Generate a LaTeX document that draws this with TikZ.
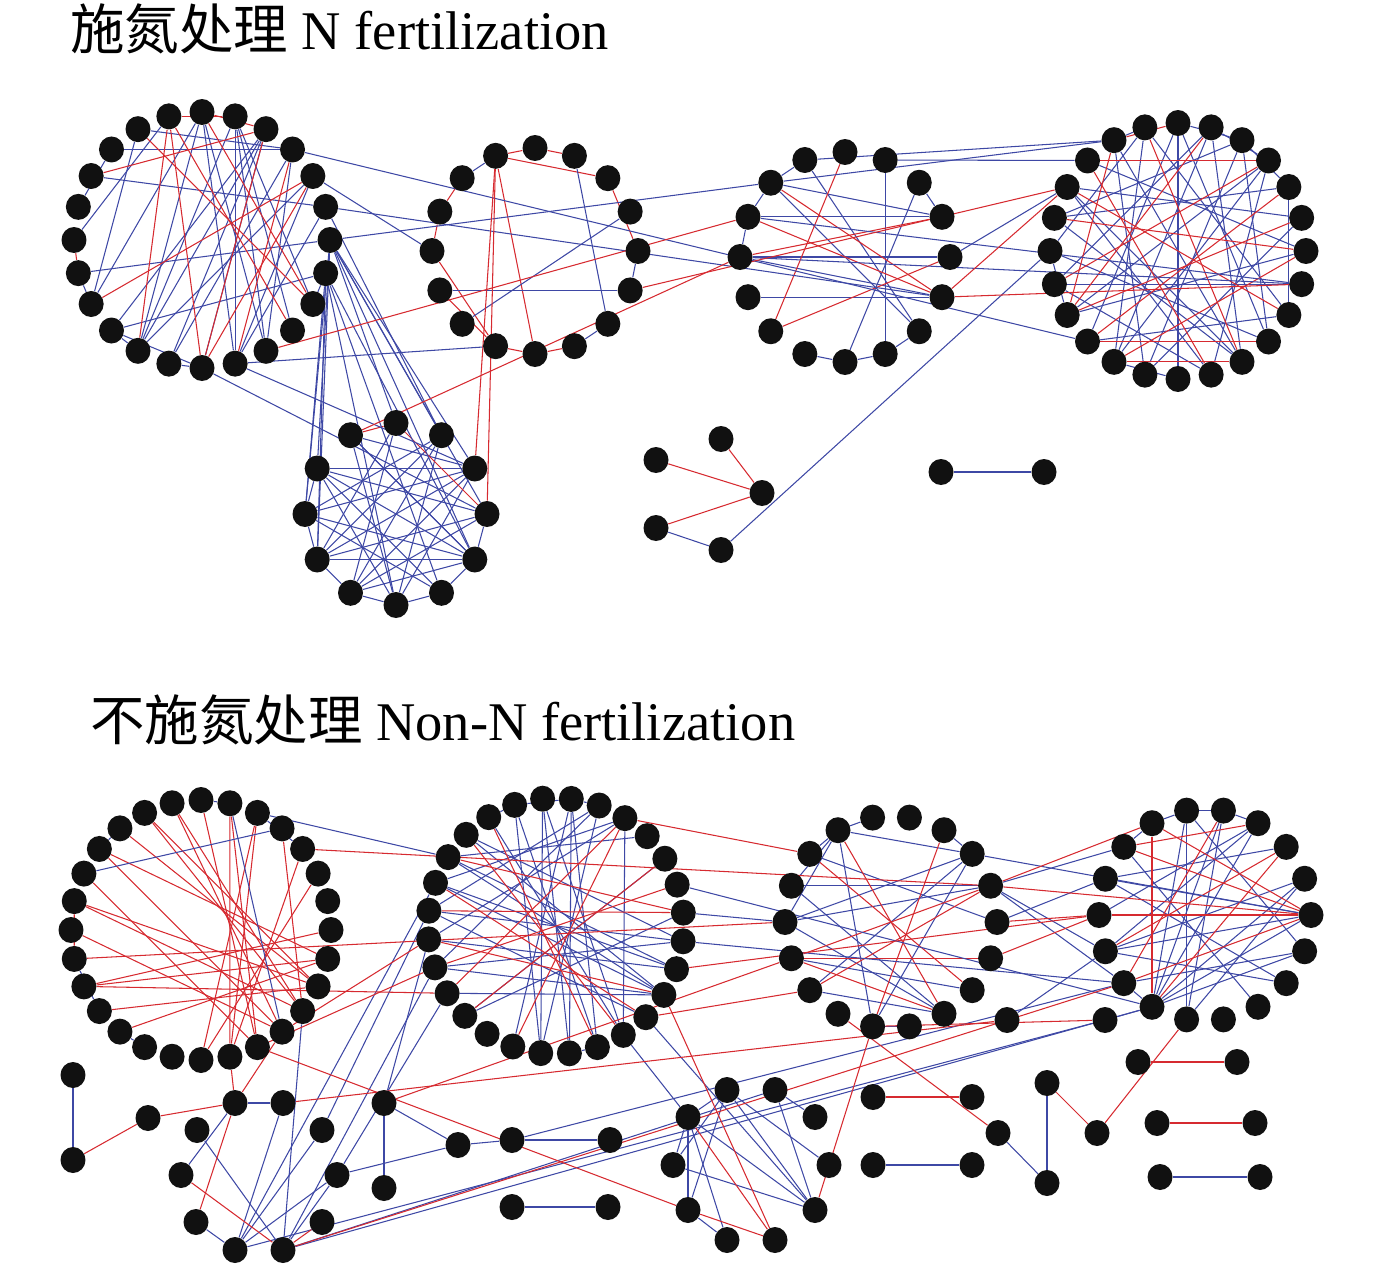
\documentclass[tikz,border=0pt]{standalone}
\usepackage{fontspec}
\setmainfont{Liberation Serif}
\newfontfamily\cjk{Noto Sans CJK SC}
\usetikzlibrary{shapes.geometric}

\definecolor{otublack}{RGB}{17,17,17}
\definecolor{posblue}{RGB}{62,72,165}
\definecolor{negred}{RGB}{214,42,48}

\pgfdeclarelayer{edges}
\pgfsetlayers{edges,main}

% ring of OTU nodes: name, centre x, centre y, radius, last index, start angle
\newcommand\otuRing[6]{%
  \foreach \k [evaluate=\k as \a using #6-\k*360/(#5+1)] in {0,...,#5}
    \node[otu] (#1\k) at ({#2+#4*cos(\a)},{#3-#4*sin(\a)}) {};}
% links inside one ring
\newcommand\ringLinks[3]{%
  \foreach \u/\v in {#3} \draw[#2] (#1\u) -- (#1\v);}

\begin{document}
\begin{tikzpicture}[
    x=0.02cm, y=-0.02cm,
    otu/.style={ellipse, fill=otublack, inner sep=0pt, minimum width=0.5cm, minimum height=0.52cm},
    poslink/.style={posblue, line width=0.6pt},
    neglink/.style={negred, line width=0.6pt},
    panel title/.style={anchor=base west, inner sep=0pt, font=\fontsize{31}{36}\selectfont}
]
\useasboundingbox (0,0) rectangle (1378,1274);

% === TITLES ===
\node[panel title] (titleN) at (70,50) {{\cjk 施氮处理} N fertilization};
\node[panel title] (titleNon) at (90,740) {{\cjk 不施氮处理} Non-N fertilization};

% === N FERTILIZATION: MODULES ===
\otuRing{A}{202}{240}{128}{23}{90}
\otuRing{B}{535}{251}{103}{15}{90}
\otuRing{C}{845}{257}{105}{15}{90}
\otuRing{D}{1178}{251}{128}{23}{90}
\otuRing{E}{396}{514}{91}{11}{90}
\foreach \nm/\x/\y in {k0/762/493, k1/656/460, k2/721/439, k3/656/528, k4/721/550,
    j1/941/472, j2/1044/472}
  \node[otu] (\nm) at (\x,\y) {};

% === NON-N FERTILIZATION: MODULES ===
\otuRing{F}{201}{930}{130}{27}{90}
\otuRing{G}{556}{926}{128}{27}{96}
\otuRing{H}{891}{922}{106}{17}{100}
\otuRing{I}{1205}{915}{106}{17}{100}
\foreach \nm/\x/\y in {p1/73/1075, p2/73/1160, p3/148/1118, q1/235/1103, q2/283/1103,
    q3/197/1130, q4/181/1175, q5/196/1222, q6/235/1250, q7/283/1250, q8/322/1222,
    q9/337/1175, q10/322/1130, r1/384/1103, r2/384/1188, s1/458/1145, s2/512/1140,
    s3/610/1140, s4/512/1207, s5/608/1207, t1/727/1090, t2/775/1090, t3/688/1117,
    t4/815/1117, t5/673/1165, t6/829/1165, t7/688/1210, t8/815/1210, t9/727/1240,
    t10/775/1240, u1/873/1097, u2/972/1097, u3/873/1165, u4/972/1165, v1/998/1133,
    w1/1047/1083, w2/1047/1183, w3/1097/1133, x1/1138/1062, x2/1237/1062,
    x3/1157/1123, x4/1255/1123, x5/1160/1177, x6/1260/1177, y1/1007/1020, y2/1105/1020}
  \node[otu] (\nm) at (\x,\y) {};

\begin{pgfonlayer}{edges}
% === N FERTILIZATION: LINKS ===
\ringLinks{A}{poslink}{21/3, 1/11, 23/18, 20/5, 15/7, 14/1, 14/0, 13/2, 10/0, 11/5, 11/4, 1/9,
    1/10, 2/14, 2/15, 3/13, 22/16, 0/16, 17/6, 19/21, 15/12, 4/14, 2/12, 3/10, 0/11, 1/8,
    22/3, 13/12, 14/15, 16/17, 7/8}
\ringLinks{A}{neglink}{20/2, 16/4, 23/12, 23/14, 22/8, 0/8, 12/4, 12/2, 23/9, 0/2, 17/18, 11/3, 1/23}
\ringLinks{B}{neglink}{15/0, 0/1, 15/2, 2/4, 15/8, 9/8, 8/7, 13/12, 12/9, 14/13, 11/9}
\ringLinks{B}{poslink}{1/6, 11/5, 10/3, 5/4, 15/14, 7/6}
\ringLinks{C}{poslink}{13/3, 1/7, 11/5, 14/6, 2/8, 9/8, 8/7, 7/6, 15/14, 14/13, 13/12, 12/5,
    15/6, 2/3, 14/3, 12/4}
\ringLinks{C}{neglink}{10/4, 10/0, 13/5, 14/5, 12/3}
\ringLinks{D}{poslink}{0/12, 0/15, 0/9, 1/14, 1/17, 23/8, 22/10, 21/6, 20/5, 19/4, 17/7, 16/3,
    14/3, 13/22, 11/20, 10/19, 9/18, 2/13, 3/11, 5/13, 6/16, 7/17, 8/15, 2/9, 11/17, 18/23,
    19/2, 1/3, 2/4, 0/2, 22/23, 12/14, 16/18, 4/8, 20/10, 23/14, 1/10}
\ringLinks{D}{neglink}{21/3, 15/9, 14/10, 20/8, 21/11, 22/16, 19/6, 16/5, 17/3, 23/10, 1/16,
    15/4, 14/6, 0/22}
\ringLinks{E}{poslink}{10/2, 8/4, 10/4, 8/2, 9/1, 11/6, 11/4, 1/7, 1/8, 2/7, 2/9,
    3/8, 3/10, 4/9, 4/11, 5/10, 5/9, 6/10, 6/1, 7/4, 7/3, 6/2, 10/9, 9/8, 8/7, 7/6, 6/5,
    5/4, 3/4, 0/8, 0/7, 11/2}
\ringLinks{E}{neglink}{0/3, 11/0}
\foreach \u/\v in {A3/D15, A5/C5, A6/C14, A4/B12, C14/D22, C15/D22, C1/D21, C4/D20,
    C12/D7, C13/D7, B9/A11, A6/E2, A6/E3, A6/E4, A6/E8, A6/E9, A6/E10, A6/E1, A7/E9,
    A7/E8, A7/E6, A7/E5, A11/E2, A12/E3, A7/E4, A6/E0, A5/E1, k4/D18, k3/k4, j1/j2}
  \draw[poslink] (\u) -- (\v);
\foreach \u/\v in {B15/E2, B15/E3, A10/C13, E11/C12, B5/D20, C5/D7, C5/D20, k1/k0,
    k2/k0, k3/k0}
  \draw[neglink] (\u) -- (\v);

% === NON-N FERTILIZATION: LINKS ===
\ringLinks{F}{neglink}{26/10, 25/9, 24/11, 22/10, 22/9, 23/12, 21/11, 19/8, 19/7, 18/9, 17/8,
    27/10, 27/11, 1/13, 1/12, 2/14, 2/13, 0/12, 5/14, 4/13, 20/22, 24/8, 26/9, 3/10}
\ringLinks{F}{poslink}{23/3, 1/11, 20/18, 2/4, 0/1, 24/25, 16/17}
\ringLinks{G}{poslink}{0/14, 0/15, 1/14, 1/13, 27/13, 0/12, 1/16, 2/15, 3/12, 24/9, 24/10,
    23/9, 23/10, 22/11, 22/8, 21/9, 25/8, 25/10, 26/12, 27/15, 2/20, 3/21, 3/23, 4/24,
    2/22, 5/18, 19/10, 20/10, 20/8, 18/7, 27/1, 1/2, 26/27, 13/14}
\ringLinks{G}{neglink}{24/7, 22/7, 21/10, 20/6, 18/5, 16/3, 26/13, 23/11, 19/3, 25/12}
\ringLinks{H}{poslink}{17/3, 17/10, 16/17, 15/17, 14/17, 3/12, 3/10, 4/14, 15/8, 14/8, 12/8,
    0/17, 2/3, 16/5, 15/4, 13/7, 9/10, 3/14}
\ringLinks{H}{neglink}{17/8, 2/10, 13/8, 13/6, 12/4, 13/4, 16/7}
\ringLinks{I}{poslink}{11/0, 11/1, 11/2, 11/4, 11/6, 5/15, 5/13, 5/11, 2/13, 0/10, 16/8, 15/7,
    13/7, 1/10, 0/6, 2/14, 4/10, 17/0, 0/1, 1/2, 16/17, 12/11, 3/15, 4/13, 6/12}
\ringLinks{I}{neglink}{11/3, 5/14, 5/12, 5/16, 5/17, 1/12, 3/13, 17/11, 2/16}
\foreach \u/\v in {F2/G24, G6/I11, G8/I12, G7/H14, H4/I16, H4/I12, H3/I5, H5/I15, H4/I13,
    p1/p2, q1/q2, q3/q7, q4/q1, q5/q6, q6/q10, q6/q9, q6/q2, q7/q9, q7/F10, q6/G23,
    q7/G20, q10/G22, q9/G19, r1/r2, r1/s1, q9/s1, s1/s2, s2/s3, r1/G21, s4/s5, s2/I12,
    q7/t2, q7/I11, q6/y2, t1/t3, t1/t5, t1/t7, t1/t8, t1/t6, t2/t4, t2/t8, t3/t5, t3/t7,
    t3/t9, t3/t8, t5/t8, t7/t9, G12/t3, G11/t8, u3/u4, v1/w2, w1/w2, y1/I13, y2/I11,
    x5/x6}
  \draw[poslink] (\u) -- (\v);
\foreach \u/\v in {p3/p2, p3/q1, q1/F13, q1/F11, q4/q7, q5/q1, q7/q8, q7/I12,
    q2/y1, r1/H13, F12/t7, t3/t10, t7/t10, t8/H10, G10/t10, u1/u2, H11/v1, w1/w3, w3/I10,
    x1/x2, x3/x4, H10/y2, F4/H4, F11/G21, F12/G20, F19/G19, F20/H14, G9/I14, G11/H12,
    G3/H16, H5/I14, H6/I14, H4/I17, H4/I5}
  \draw[neglink] (\u) -- (\v);
\end{pgfonlayer}

\end{tikzpicture}
\end{document}
